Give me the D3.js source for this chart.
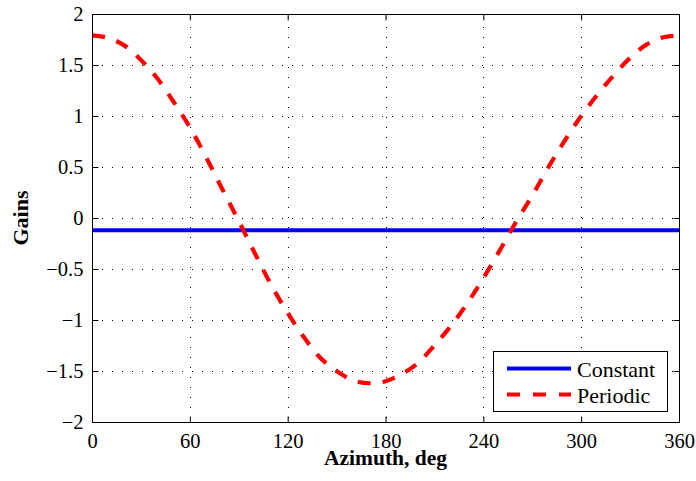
<!DOCTYPE html>
<html>
<head>
<meta charset="utf-8">
<script src="https://cdn.jsdelivr.net/npm/d3@7"></script>
<style>
  html, body { margin: 0; padding: 0; background: #fff; }
  svg { display: block; }
  text { font-family: "Liberation Serif", "Times New Roman", serif; fill: #000; }
</style>
</head>
<body>
<svg id="chart" width="696" height="481"></svg>
<script>
// Azimuth samples (deg) and the periodic gain at each
const azimuth = [0, 10, 20, 30, 40, 50, 60, 70, 80, 90, 100, 110, 120, 130, 140, 150, 160, 170, 180,
                 190, 200, 210, 220, 230, 240, 250, 260, 270, 280, 290, 300, 310, 320, 330, 340, 350, 360];
const periodicGain = [1.79, 1.765, 1.69, 1.55, 1.37, 1.14, 0.89, 0.595, 0.28, -0.03, -0.35, -0.66, -0.93,
                      -1.17, -1.37, -1.50, -1.59, -1.62, -1.60, -1.53, -1.42, -1.25, -1.06, -0.84, -0.59,
                      -0.32, -0.04, 0.22, 0.50, 0.76, 1.00, 1.21, 1.40, 1.57, 1.70, 1.77, 1.79];
// Constant gain over the full azimuth range
const constantAzimuth = [0, 360];
const constantGain = [-0.12, -0.12];

const xTicks = [0, 60, 120, 180, 240, 300, 360];
const yTicks = [-2, -1.5, -1, -0.5, 0, 0.5, 1, 1.5, 2];
const yTickLabels = ["\u22122", "\u22121.5", "\u22121", "\u22120.5", "0", "0.5", "1", "1.5", "2"];
const seriesNames = ["Constant", "Periodic"];
const seriesColors = ["#0000ff", "#ff0000"];

const svg = d3.select("#chart");
const pL = 92, pR = 679, pT = 14, pB = 422;
const serif = "Liberation Serif, Times New Roman, serif";

const x = d3.scaleLinear().domain([0, 360]).range([pL, pR]);
const y = d3.scaleLinear().domain([-2, 2]).range([pB, pT]);

// Dotted grid
const grid = svg.append("g").attr("stroke", "#000").attr("stroke-width", 1)
  .attr("stroke-dasharray", "1,9");
grid.selectAll("line.gx").data(xTicks.slice(1, -1)).join("line")
  .attr("class", "gx")
  .attr("x1", d => Math.round(x(d)) + 0.5).attr("x2", d => Math.round(x(d)) + 0.5)
  .attr("y1", pB).attr("y2", pT)
  .attr("stroke-dashoffset", -4);
grid.selectAll("line.gy").data(yTicks.slice(1, -1)).join("line")
  .attr("class", "gy")
  .attr("y1", d => Math.round(y(d)) + 0.5).attr("y2", d => Math.round(y(d)) + 0.5)
  .attr("x1", pL).attr("x2", pR)
  .attr("stroke-dashoffset", -10);

// Clip lines to the plotting area
svg.append("clipPath").attr("id", "plotclip").append("rect")
  .attr("x", pL).attr("y", pT).attr("width", pR - pL).attr("height", pB - pT);

const line = d3.line().x(d => x(d[0])).y(d => y(d[1]));
const plot = svg.append("g").attr("clip-path", "url(#plotclip)");

plot.append("path")
  .datum(constantAzimuth.map((a, i) => [a, constantGain[i]]))
  .attr("fill", "none").attr("stroke", seriesColors[0]).attr("stroke-width", 4.2)
  .attr("d", line);

plot.append("path")
  .datum(azimuth.map((a, i) => [a, periodicGain[i]]))
  .attr("fill", "none").attr("stroke", seriesColors[1]).attr("stroke-width", 4.2)
  .attr("stroke-dasharray", "13,12")
  .attr("d", line.curve(d3.curveCatmullRom.alpha(0.5)));

// Axes with inward ticks on all four sides
const tickFont = 20.5;
const axB = svg.append("g").attr("transform", `translate(0,${pB + 0.5})`)
  .call(d3.axisBottom(x).tickValues(xTicks).tickSize(-6).tickPadding(11).tickFormat(d3.format("d")));
const axT = svg.append("g").attr("transform", `translate(0,${pT + 0.5})`)
  .call(d3.axisTop(x).tickValues(xTicks).tickSize(-6).tickFormat(""));
const axL = svg.append("g").attr("transform", `translate(${pL + 0.5},0)`)
  .call(d3.axisLeft(y).tickValues(yTicks).tickSize(-6).tickPadding(9)
    .tickFormat((d, i) => yTickLabels[i]));
const axR = svg.append("g").attr("transform", `translate(${pR + 0.5},0)`)
  .call(d3.axisRight(y).tickValues(yTicks).tickSize(-6).tickFormat(""));

[axB, axT, axL, axR].forEach(g => {
  g.attr("font-family", serif).attr("font-size", tickFont);
  g.select(".domain").remove();
  g.selectAll("line").attr("stroke", "#000").attr("stroke-width", 1);
  g.selectAll("text").attr("font-size", tickFont).attr("font-family", serif);
});

// Box
svg.append("rect").attr("x", pL + 0.5).attr("y", pT + 0.5)
  .attr("width", pR - pL).attr("height", pB - pT)
  .attr("fill", "none").attr("stroke", "#000").attr("stroke-width", 1);

// Axis titles
svg.append("text").attr("x", (pL + pR) / 2).attr("y", 465)
  .attr("text-anchor", "middle").attr("font-weight", "bold").attr("font-size", 21.5)
  .text("Azimuth, deg");
svg.append("text").attr("transform", `translate(28,${(pT + pB) / 2}) rotate(-90)`)
  .attr("text-anchor", "middle").attr("font-weight", "bold").attr("font-size", 22)
  .text("Gains");

// Legend
const lg = svg.append("g");
lg.append("rect").attr("x", 493.5).attr("y", 351.5).attr("width", 174).attr("height", 60)
  .attr("fill", "#fff").attr("stroke", "#000").attr("stroke-width", 1);
const rows = [368.5, 394.5];
seriesNames.forEach((name, i) => {
  lg.append("line").attr("x1", 507).attr("x2", 571).attr("y1", rows[i]).attr("y2", rows[i])
    .attr("stroke", seriesColors[i]).attr("stroke-width", 4.2)
    .attr("stroke-dasharray", i === 1 ? "13,13" : null);
  lg.append("text").attr("x", 577).attr("y", rows[i] + 8).attr("font-size", 22).text(name);
});
</script>
</body>
</html>
